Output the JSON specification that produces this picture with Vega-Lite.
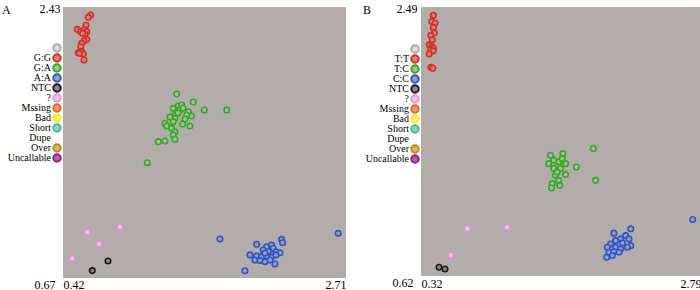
{
  "$schema": "https://vega.github.io/schema/vega-lite/v6.json",
  "padding": {"left": 2, "top": 2, "right": 0, "bottom": 0},
  "background": "white",
  "spacing": 6,
  "bounds": "flush",
  "config": {
    "view": {"fill": null, "stroke": null},
    "font": "Liberation Serif",
    "axis": {"labelFont": "Liberation Serif", "labelFontSize": 12, "labelColor": "#000", "domain": false, "ticks": false, "grid": false, "title": null},
    "title": {"font": "Liberation Serif", "fontSize": 12, "fontWeight": "normal", "color": "#000", "anchor": "start", "frame": "group", "baseline": "middle", "offset": 0}
  },
  "datasets": {
    "legA": [
      {"call": " "}, {"call": "G:G"}, {"call": "G:A"}, {"call": "A:A"}, {"call": "NTC"}, {"call": "?"},
      {"call": "Mssing"}, {"call": "Bad"}, {"call": "Short"}, {"call": "Dupe"}, {"call": "Over"}, {"call": "Uncallable"}
    ],
    "legB": [
      {"call": " "}, {"call": "T:T"}, {"call": "T:C"}, {"call": "C:C"}, {"call": "NTC"}, {"call": "?"},
      {"call": "Mssing"}, {"call": "Bad"}, {"call": "Short"}, {"call": "Dupe"}, {"call": "Over"}, {"call": "Uncallable"}
    ],
    "a": [
      {"x": 0.644, "y": 2.378, "call": "G:G"}, {"x": 0.625, "y": 2.363, "call": "G:G"}, {"x": 0.606, "y": 2.313, "call": "G:G"},
      {"x": 0.536, "y": 2.285, "call": "G:G"}, {"x": 0.563, "y": 2.270, "call": "G:G"}, {"x": 0.590, "y": 2.281, "call": "G:G"},
      {"x": 0.612, "y": 2.270, "call": "G:G"}, {"x": 0.598, "y": 2.253, "call": "G:G"}, {"x": 0.579, "y": 2.259, "call": "G:G"},
      {"x": 0.612, "y": 2.220, "call": "G:G"}, {"x": 0.590, "y": 2.209, "call": "G:G"}, {"x": 0.571, "y": 2.194, "call": "G:G"},
      {"x": 0.563, "y": 2.172, "call": "G:G"}, {"x": 0.544, "y": 2.133, "call": "G:G"}, {"x": 0.571, "y": 2.140, "call": "G:G"},
      {"x": 0.584, "y": 2.125, "call": "G:G"}, {"x": 0.590, "y": 2.086, "call": "G:G"}, {"x": 0.552, "y": 2.129, "call": "G:G"},
      {"x": 1.340, "y": 1.865, "call": "G:A"}, {"x": 1.474, "y": 1.813, "call": "G:A"}, {"x": 1.563, "y": 1.761, "call": "G:A"},
      {"x": 1.744, "y": 1.761, "call": "G:A"}, {"x": 1.312, "y": 1.772, "call": "G:A"}, {"x": 1.353, "y": 1.787, "call": "G:A"},
      {"x": 1.380, "y": 1.794, "call": "G:A"}, {"x": 1.340, "y": 1.750, "call": "G:A"}, {"x": 1.326, "y": 1.729, "call": "G:A"},
      {"x": 1.367, "y": 1.761, "call": "G:A"}, {"x": 1.434, "y": 1.750, "call": "G:A"}, {"x": 1.461, "y": 1.722, "call": "G:A"},
      {"x": 1.421, "y": 1.729, "call": "G:A"}, {"x": 1.326, "y": 1.707, "call": "G:A"}, {"x": 1.312, "y": 1.685, "call": "G:A"},
      {"x": 1.245, "y": 1.675, "call": "G:A"}, {"x": 1.259, "y": 1.657, "call": "G:A"}, {"x": 1.388, "y": 1.670, "call": "G:A"},
      {"x": 1.447, "y": 1.657, "call": "G:A"}, {"x": 1.299, "y": 1.642, "call": "G:A"}, {"x": 1.326, "y": 1.620, "call": "G:A"},
      {"x": 1.312, "y": 1.599, "call": "G:A"}, {"x": 1.191, "y": 1.555, "call": "G:A"}, {"x": 1.245, "y": 1.560, "call": "G:A"},
      {"x": 1.326, "y": 1.571, "call": "G:A"}, {"x": 1.102, "y": 1.419, "call": "G:A"}, {"x": 1.350, "y": 1.742, "call": "G:A"},
      {"x": 1.391, "y": 1.774, "call": "G:A"}, {"x": 1.286, "y": 1.716, "call": "G:A"}, {"x": 1.407, "y": 1.703, "call": "G:A"},
      {"x": 1.690, "y": 0.923, "call": "A:A"}, {"x": 2.647, "y": 0.960, "call": "A:A"}, {"x": 1.892, "y": 0.717, "call": "A:A"},
      {"x": 2.189, "y": 0.921, "call": "A:A"}, {"x": 2.197, "y": 0.899, "call": "A:A"}, {"x": 1.987, "y": 0.889, "call": "A:A"},
      {"x": 2.068, "y": 0.873, "call": "A:A"}, {"x": 2.108, "y": 0.884, "call": "A:A"}, {"x": 2.121, "y": 0.863, "call": "A:A"},
      {"x": 2.040, "y": 0.852, "call": "A:A"}, {"x": 2.081, "y": 0.841, "call": "A:A"}, {"x": 2.143, "y": 0.841, "call": "A:A"},
      {"x": 2.176, "y": 0.834, "call": "A:A"}, {"x": 1.933, "y": 0.820, "call": "A:A"}, {"x": 1.987, "y": 0.813, "call": "A:A"},
      {"x": 2.027, "y": 0.809, "call": "A:A"}, {"x": 2.068, "y": 0.813, "call": "A:A"}, {"x": 2.108, "y": 0.805, "call": "A:A"},
      {"x": 1.973, "y": 0.787, "call": "A:A"}, {"x": 2.014, "y": 0.783, "call": "A:A"}, {"x": 2.054, "y": 0.776, "call": "A:A"},
      {"x": 2.095, "y": 0.787, "call": "A:A"}, {"x": 2.135, "y": 0.761, "call": "A:A"}, {"x": 2.143, "y": 0.820, "call": "A:A"},
      {"x": 2.054, "y": 0.831, "call": "A:A"},
      {"x": 0.617, "y": 0.967, "call": "?"}, {"x": 0.711, "y": 0.891, "call": "?"}, {"x": 0.881, "y": 1.003, "call": "?"}, {"x": 0.495, "y": 0.798, "call": "?"},
      {"x": 0.657, "y": 0.718, "call": "NTC"}, {"x": 0.784, "y": 0.780, "call": "NTC"}
    ],
    "b": [
      {"x": 0.429, "y": 2.432, "call": "T:T"}, {"x": 0.415, "y": 2.390, "call": "T:T"}, {"x": 0.444, "y": 2.378, "call": "T:T"},
      {"x": 0.429, "y": 2.348, "call": "T:T"}, {"x": 0.438, "y": 2.309, "call": "T:T"}, {"x": 0.406, "y": 2.293, "call": "T:T"},
      {"x": 0.420, "y": 2.262, "call": "T:T"}, {"x": 0.393, "y": 2.227, "call": "T:T"}, {"x": 0.415, "y": 2.216, "call": "T:T"},
      {"x": 0.429, "y": 2.204, "call": "T:T"}, {"x": 0.406, "y": 2.192, "call": "T:T"}, {"x": 0.429, "y": 2.185, "call": "T:T"},
      {"x": 0.393, "y": 2.164, "call": "T:T"}, {"x": 0.409, "y": 2.071, "call": "T:T"}, {"x": 0.424, "y": 2.064, "call": "T:T"},
      {"x": 1.840, "y": 1.506, "call": "T:C"}, {"x": 1.690, "y": 1.378, "call": "T:C"}, {"x": 1.860, "y": 1.285, "call": "T:C"},
      {"x": 1.462, "y": 1.459, "call": "T:C"}, {"x": 1.571, "y": 1.471, "call": "T:C"}, {"x": 1.491, "y": 1.424, "call": "T:C"},
      {"x": 1.535, "y": 1.413, "call": "T:C"}, {"x": 1.595, "y": 1.401, "call": "T:C"}, {"x": 1.447, "y": 1.401, "call": "T:C"},
      {"x": 1.491, "y": 1.367, "call": "T:C"}, {"x": 1.551, "y": 1.367, "call": "T:C"}, {"x": 1.595, "y": 1.325, "call": "T:C"},
      {"x": 1.506, "y": 1.320, "call": "T:C"}, {"x": 1.535, "y": 1.285, "call": "T:C"}, {"x": 1.477, "y": 1.262, "call": "T:C"},
      {"x": 1.544, "y": 1.250, "call": "T:C"}, {"x": 1.471, "y": 1.232, "call": "T:C"}, {"x": 1.521, "y": 1.343, "call": "T:C"},
      {"x": 1.566, "y": 1.436, "call": "T:C"},
      {"x": 2.717, "y": 1.013, "call": "C:C"}, {"x": 2.170, "y": 0.948, "call": "C:C"}, {"x": 2.022, "y": 0.918, "call": "C:C"},
      {"x": 2.126, "y": 0.901, "call": "C:C"}, {"x": 2.082, "y": 0.878, "call": "C:C"}, {"x": 2.155, "y": 0.878, "call": "C:C"},
      {"x": 2.037, "y": 0.866, "call": "C:C"}, {"x": 1.993, "y": 0.843, "call": "C:C"}, {"x": 2.097, "y": 0.850, "call": "C:C"},
      {"x": 2.170, "y": 0.831, "call": "C:C"}, {"x": 1.964, "y": 0.820, "call": "C:C"}, {"x": 2.037, "y": 0.820, "call": "C:C"},
      {"x": 2.082, "y": 0.808, "call": "C:C"}, {"x": 2.141, "y": 0.820, "call": "C:C"}, {"x": 1.978, "y": 0.785, "call": "C:C"},
      {"x": 2.022, "y": 0.789, "call": "C:C"}, {"x": 2.067, "y": 0.785, "call": "C:C"}, {"x": 1.958, "y": 0.750, "call": "C:C"},
      {"x": 2.008, "y": 0.762, "call": "C:C"},
      {"x": 0.730, "y": 0.948, "call": "?"}, {"x": 1.079, "y": 0.960, "call": "?"}, {"x": 0.583, "y": 0.766, "call": "?"},
      {"x": 0.479, "y": 0.681, "call": "NTC"}, {"x": 0.532, "y": 0.669, "call": "NTC"}
    ]
  },
  "hconcat": [
    {
      "width": 55,
      "height": 271,
      "data": {"name": "legA"},
      "layer": [
        {
          "mark": {"type": "point", "filled": true, "shape": "circle", "size": 55, "strokeWidth": 2, "opacity": 1},
          "encoding": {
            "x": {"value": "width"},
            "y": {"field": "call", "type": "nominal", "sort": null, "axis": null, "scale": {"type": "point", "padding": 0, "range": [41, 151]}},
            "fill": {"field": "call", "type": "nominal", "legend": null,
                     "scale": {"domain": [" ", "G:G", "G:A", "A:A", "NTC", "?", "Mssing", "Bad", "Short", "Dupe", "Over", "Uncallable"],
                               "range": ["#dcdcdc", "#f07a70", "#8fd27a", "#86a3e0", "#8a8a8a", "#f5c6f0", "#f59a66", "#fff45a", "#8ad8c0", "#ffffff", "#e0b850", "#b85ab8"]}},
            "stroke": {"field": "call", "type": "nominal", "legend": null,
                       "scale": {"domain": [" ", "G:G", "G:A", "A:A", "NTC", "?", "Mssing", "Bad", "Short", "Dupe", "Over", "Uncallable"],
                                 "range": ["#a8a8a8", "#cc3328", "#3fa032", "#3553b8", "#1a1a1a", "#e592dc", "#e8642a", "#f5e830", "#4cb89a", "#ffffff", "#b88a20", "#8a2288"]}}
          }
        },
        {
          "mark": {"type": "text", "align": "right", "baseline": "middle", "dx": -6, "font": "Liberation Serif", "fontSize": 10, "color": "#000"},
          "encoding": {
            "x": {"value": "width"},
            "y": {"field": "call", "type": "nominal", "sort": null, "axis": null, "scale": {"type": "point", "padding": 0, "range": [41, 151]}},
            "text": {"field": "call"}
          }
        }
      ]
    },
    {
      "width": 283,
      "height": 271,
      "view": {"fill": "#b2acaa", "stroke": null},
      "title": {"text": "A", "dx": -61, "dy": 19},
      "data": {"name": "a"},
      "mark": {"type": "point", "filled": true, "shape": "circle", "size": 30, "strokeWidth": 1.6, "opacity": 1},
      "encoding": {
        "x": {"field": "x", "type": "quantitative", "scale": {"domain": [0.42, 2.71], "nice": false, "zero": false},
              "axis": {"values": [0.42, 2.71], "format": ".2f", "labelFlush": true, "labelPadding": 1}},
        "y": {"field": "y", "type": "quantitative", "scale": {"domain": [0.67, 2.43], "nice": false, "zero": false},
              "axis": {"values": [0.67, 2.43], "format": ".2f", "labelFlush": false, "labelOffset": 1,
                       "labelBaseline": {"condition": {"test": "datum.value < 1", "value": "top"}, "value": "middle"},
                       "labelPadding": {"condition": {"test": "datum.value < 1", "value": 8}, "value": 3}}},
        "fill": {"field": "call", "type": "nominal", "legend": null,
                 "scale": {"domain": [" ", "G:G", "G:A", "A:A", "NTC", "?", "Mssing", "Bad", "Short", "Dupe", "Over", "Uncallable"],
                           "range": ["#dcdcdc", "#f07a70", "#8fd27a", "#86a3e0", "#8a8a8a", "#f5c6f0", "#f59a66", "#fff45a", "#8ad8c0", "#ffffff", "#e0b850", "#b85ab8"]}},
        "stroke": {"field": "call", "type": "nominal", "legend": null,
                   "scale": {"domain": [" ", "G:G", "G:A", "A:A", "NTC", "?", "Mssing", "Bad", "Short", "Dupe", "Over", "Uncallable"],
                             "range": ["#a8a8a8", "#cc3328", "#3fa032", "#3553b8", "#1a1a1a", "#e592dc", "#e8642a", "#f5e830", "#4cb89a", "#ffffff", "#b88a20", "#8a2288"]}}
      }
    },
    {
      "width": 63,
      "height": 271,
      "data": {"name": "legB"},
      "layer": [
        {
          "mark": {"type": "point", "filled": true, "shape": "circle", "size": 55, "strokeWidth": 2, "opacity": 1},
          "encoding": {
            "x": {"value": "width"},
            "y": {"field": "call", "type": "nominal", "sort": null, "axis": null, "scale": {"type": "point", "padding": 0, "range": [42, 152]}},
            "fill": {"field": "call", "type": "nominal", "legend": null,
                     "scale": {"domain": [" ", "T:T", "T:C", "C:C", "NTC", "?", "Mssing", "Bad", "Short", "Dupe", "Over", "Uncallable"],
                               "range": ["#dcdcdc", "#f07a70", "#8fd27a", "#86a3e0", "#8a8a8a", "#f5c6f0", "#f59a66", "#fff45a", "#8ad8c0", "#ffffff", "#e0b850", "#b85ab8"]}},
            "stroke": {"field": "call", "type": "nominal", "legend": null,
                       "scale": {"domain": [" ", "T:T", "T:C", "C:C", "NTC", "?", "Mssing", "Bad", "Short", "Dupe", "Over", "Uncallable"],
                                 "range": ["#a8a8a8", "#cc3328", "#3fa032", "#3553b8", "#1a1a1a", "#e592dc", "#e8642a", "#f5e830", "#4cb89a", "#ffffff", "#b88a20", "#8a2288"]}}
          }
        },
        {
          "mark": {"type": "text", "align": "right", "baseline": "middle", "dx": -6, "font": "Liberation Serif", "fontSize": 10, "color": "#000"},
          "encoding": {
            "x": {"value": "width"},
            "y": {"field": "call", "type": "nominal", "sort": null, "axis": null, "scale": {"type": "point", "padding": 0, "range": [42, 152]}},
            "text": {"field": "call"}
          }
        }
      ]
    },
    {
      "width": 280,
      "height": 269,
      "view": {"fill": "#b2acaa", "stroke": null},
      "title": {"text": "B", "dx": -58, "dy": 19},
      "data": {"name": "b"},
      "mark": {"type": "point", "filled": true, "shape": "circle", "size": 30, "strokeWidth": 1.6, "opacity": 1},
      "encoding": {
        "x": {"field": "x", "type": "quantitative", "scale": {"domain": [0.32, 2.79], "nice": false, "zero": false},
              "axis": {"values": [0.32, 2.79], "format": ".2f", "labelFlush": true, "labelPadding": 2}},
        "y": {"field": "y", "type": "quantitative", "scale": {"domain": [0.62, 2.49], "nice": false, "zero": false},
              "axis": {"values": [0.62, 2.49], "format": ".2f", "labelFlush": false, "labelOffset": 1,
                       "labelBaseline": {"condition": {"test": "datum.value < 1", "value": "top"}, "value": "middle"},
                       "labelPadding": {"condition": {"test": "datum.value < 1", "value": 8}, "value": 4}}},
        "fill": {"field": "call", "type": "nominal", "legend": null,
                 "scale": {"domain": [" ", "T:T", "T:C", "C:C", "NTC", "?", "Mssing", "Bad", "Short", "Dupe", "Over", "Uncallable"],
                           "range": ["#dcdcdc", "#f07a70", "#8fd27a", "#86a3e0", "#8a8a8a", "#f5c6f0", "#f59a66", "#fff45a", "#8ad8c0", "#ffffff", "#e0b850", "#b85ab8"]}},
        "stroke": {"field": "call", "type": "nominal", "legend": null,
                   "scale": {"domain": [" ", "T:T", "T:C", "C:C", "NTC", "?", "Mssing", "Bad", "Short", "Dupe", "Over", "Uncallable"],
                             "range": ["#a8a8a8", "#cc3328", "#3fa032", "#3553b8", "#1a1a1a", "#e592dc", "#e8642a", "#f5e830", "#4cb89a", "#ffffff", "#b88a20", "#8a2288"]}}
      }
    }
  ],
  "resolve": {
    "scale": {"x": "independent", "y": "independent", "fill": "independent", "stroke": "independent"}
  }
}
